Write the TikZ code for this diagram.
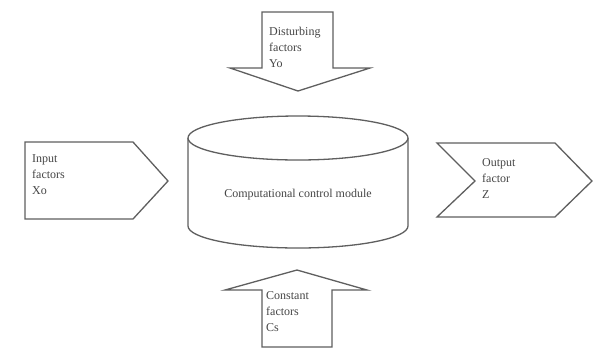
\documentclass[tikz,border=0pt]{standalone}
\usepackage{fontspec}
\setmainfont{Liberation Serif}
\usepackage{tikz}
\usepackage{xcolor}
\usetikzlibrary{positioning}

\definecolor{edgegray}{RGB}{95,95,95}
\definecolor{textgray}{RGB}{70,70,70}

\begin{document}
\begin{tikzpicture}[x=1pt,y=1pt]
\tikzstyle{every node}+=[inner sep=0pt]
\tikzstyle{shape line}=[draw=edgegray, line width=1.3pt, line join=miter, fill=white]
\tikzstyle{factor text}=[align=left, anchor=west, text=textgray, font=\fontsize{12}{16}\selectfont]
\useasboundingbox (0,0) rectangle (597,-349);
% disturbing factors, down arrow
\draw [shape line] (262,-12) -- (333,-12) -- (333,-68) -- (370,-68) -- (298,-91) -- (230,-68) -- (262,-68) -- cycle;
\node [factor text] (yo) at (269,-47) {Disturbing\\factors\\Yo};
% input factors
\draw [shape line] (25,-142) -- (133,-142) -- (168,-181) -- (133,-219) -- (25,-219) -- cycle;
\node [factor text] (xo) at (32,-175) {Input\\factors\\Xo};
% output factor, chevron
\draw [shape line] (437,-143) -- (555,-143) -- (592,-181) -- (555,-217) -- (437,-217) -- (475,-181) -- cycle;
\node [factor text] (z) at (482,-179) {Output\\factor\\Z};
% constant factors, up arrow
\draw [shape line] (297,-270) -- (367,-290) -- (332,-290) -- (332,-347) -- (262,-347) -- (262,-290) -- (225,-290) -- cycle;
\node [factor text] (co) at (266,-312) {Constant\\factors\\Cs};
% control module cylinder
\draw [shape line] (188,-138) -- (188,-226) arc (180:360:110 and 22) -- (408,-138);
\draw [shape line] (298,-138) ellipse (110 and 22);
\node [text=textgray, font=\fontsize{12}{16}\selectfont] (ccm) at (298,-195) {Computational control module};
\end{tikzpicture}
\end{document}
